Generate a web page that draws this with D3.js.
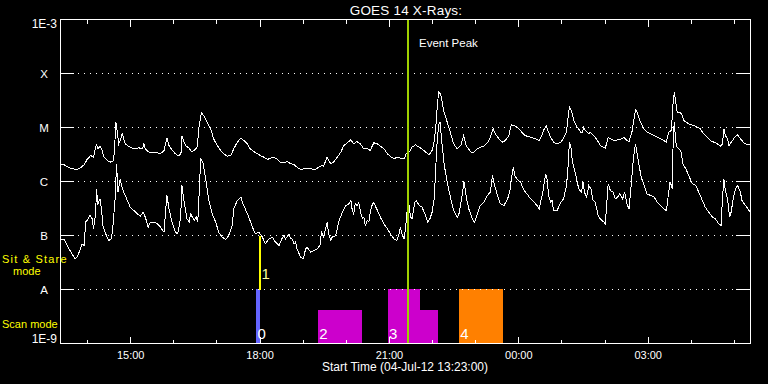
<!DOCTYPE html>
<html><head><meta charset="utf-8">
<script src="https://cdn.jsdelivr.net/npm/d3@7"></script>
<style>
html,body{margin:0;padding:0;background:#000;}
svg{display:block;background:#000;}
text{font-family:"Liberation Sans",Arial,sans-serif;fill:#fff;}
</style></head><body>
<svg id="chart" width="768" height="384"></svg>
<script>
// ---------- data ----------
const title = "GOES 14 X-Rays:";
const startTime = "2012-07-04 13:23";
const endTime = "2012-07-05 05:23";
const xAxisTitle = "Start Time (04-Jul-12 13:23:00)";
const yTickValues = [1e-9, 1e-8, 1e-7, 1e-6, 1e-5, 1e-4, 1e-3];
const yTickLabels = ["1E-9", "A", "B", "C", "M", "X", "1E-3"];

// GOES long channel (1-8 A), minutes after start, flux W/m^2
const longMinutes = [0,5,9,14,21,26,30,33,37,42,46,50,52,55,58,60,65,70,73,75,77,79,81,84,86,88,90,95,100,104,109,114,116,118,123,128,132,139,144,148,151,155,160,165,168,169,172,174,179,182,186,190,193,196,199,204,209,213,218,223,227,232,237,241,246,251,255,260,264,269,274,278,283,288,292,297,302,306,311,315,320,
325,329,334,339,343,348,355,359,364,366,371,376,380,385,390,394,399,404,408,412,417,422,427,431,434,436,441,445,450,455,459,464,468,473,478,481,483,487,489,494,499,503,508,513,517,519,522,524,526,529,531,533,538,543,547,552,557,559,561,564,566,571,575,580,584,589,594,598,602,605,610,615,619,624,626,628,631,635,640,
645,649,654,661,666,670,673,676,678,682,686,691,696,700,704,706,708,711,714,719,724,726,728,730,735,737,742,747,751,758,762,765,770,775,779,784,788,791,795,798,800,802,807,812,816,821,826,830,835,839,843,846,850,852,854,856,858,862,865,867,872,877,881,886,890,895,900,904,909,914,918,921,923,925,928,930,935,939,942,946,951,955,960];
const longFlux = [2.12e-6,2.04e-6,1.90e-6,1.77e-6,1.67e-6,1.72e-6,1.90e-6,2.04e-6,2.56e-6,3.03e-6,2.82e-6,4.98e-6,4.03e-6,4.45e-6,3.75e-6,2.90e-6,2.45e-6,2.28e-6,2.35e-6,3.49e-6,1.26e-5,8.20e-6,4.98e-6,6.17e-6,7.85e-6,6.17e-6,4.98e-6,4.45e-6,4.14e-6,4.03e-6,4.20e-6,4.03e-6,4.98e-6,4.03e-6,3.49e-6,3.49e-6,3.49e-6,3.25e-6,3.75e-6,6.44e-6,4.64e-6,3.86e-6,3.25e-6,2.94e-6,3.49e-6,6.91e-6,5.35e-6,4.64e-6,4.14e-6,3.59e-6,3.75e-6,4.32e-6,1.09e-5,1.87e-5,1.67e-5,1.26e-5,9.44e-6,6.17e-6,4.64e-6,3.75e-6,3.25e-6,2.94e-6,3.03e-6,4.03e-6,5.35e-6,6.35e-6,5.75e-6,4.98e-6,4.03e-6,3.59e-6,3.25e-6,3.03e-6,2.82e-6,2.56e-6,2.70e-6,2.82e-6,2.56e-6,2.28e-6,2.22e-6,2.35e-6,2.15e-6,
2.04e-6,1.84e-6,1.67e-6,1.72e-6,1.72e-6,1.72e-6,1.67e-6,1.84e-6,1.98e-6,1.92e-6,2.82e-6,2.12e-6,2.28e-6,2.82e-6,3.49e-6,4.64e-6,5.20e-6,5.91e-6,4.98e-6,5.51e-6,4.98e-6,4.03e-6,4.03e-6,3.75e-6,4.64e-6,5.20e-6,4.98e-6,4.51e-6,4.03e-6,3.25e-6,2.90e-6,2.63e-6,2.82e-6,2.70e-6,2.63e-6,3.25e-6,3.49e-6,3.75e-6,4.32e-6,4.77e-6,4.32e-6,4.03e-6,3.49e-6,3.12e-6,3.75e-6,4.64e-6,9.44e-6,2.22e-5,4.51e-5,4.20e-5,2.94e-5,2.06e-5,1.26e-5,7.63e-6,4.98e-6,4.03e-6,4.64e-6,5.75e-6,7.11e-6,4.77e-6,4.32e-6,3.49e-6,3.49e-6,4.03e-6,4.32e-6,4.51e-6,5.20e-6,6.62e-6,9.44e-6,7.63e-6,6.17e-6,5.35e-6,5.75e-6,7.11e-6,1.01e-5,1.12e-5,1.09e-5,1.01e-5,8.80e-6,
7.31e-6,6.91e-6,6.62e-6,6.17e-6,5.75e-6,7.31e-6,9.44e-6,1.06e-5,8.80e-6,6.62e-6,5.35e-6,4.98e-6,5.35e-6,6.35e-6,8.20e-6,1.45e-5,2.38e-5,2.06e-5,1.35e-5,1.01e-5,8.20e-6,8.20e-6,1.01e-5,8.80e-6,7.63e-6,8.20e-6,7.11e-6,5.75e-6,4.64e-6,4.14e-6,6.62e-6,6.17e-6,5.75e-6,5.91e-6,6.00e-6,6.62e-6,5.75e-6,5.51e-6,8.20e-6,1.45e-5,2.15e-5,1.92e-5,1.26e-5,9.44e-6,8.20e-6,7.63e-6,7.11e-6,6.62e-6,6.17e-6,5.75e-6,5.35e-6,8.20e-6,8.80e-6,2.56e-5,4.51e-5,2.94e-5,1.92e-5,1.92e-5,1.67e-5,1.35e-5,1.22e-5,1.12e-5,1.09e-5,1.01e-5,9.44e-6,7.63e-6,6.62e-6,5.75e-6,5.35e-6,4.98e-6,4.51e-6,4.98e-6,9.44e-6,7.11e-6,6.17e-6,4.64e-6,5.75e-6,6.91e-6,7.31e-6,6.17e-6,5.20e-6,4.77e-6,4.77e-6];

// GOES short channel (0.5-4 A), minutes after start, flux W/m^2
const shortMinutes = [0,5,7,12,16,20,23,26,30,33,35,37,41,44,46,49,50,52,55,57,59,63,67,71,73,76,78,80,83,85,88,93,97,102,107,111,115,118,122,125,130,135,139,144,148,151,155,160,163,167,169,172,176,179,181,186,189,191,193,195,198,202,206,211,216,220,225,230,234,239,241,246,251,253,257,262,267,271,276,281,285,290,295,299,304,308,311,313,318,320,
322,325,327,329,334,338,341,343,348,353,357,361,363,366,371,373,376,378,383,387,392,397,401,404,406,408,410,413,415,417,420,422,424,427,429,431,434,436,441,445,450,455,459,464,468,471,473,475,478,480,482,484,487,489,493,495,499,503,508,511,514,517,520,522,524,526,528,531,534,538,543,547,552,554,558,560,561,563,565,568,573,576,580,584,589,594,598,601,604,608,612,617,622,625,628,630,632,635,640,
642,645,649,654,659,663,666,669,672,673,675,677,679,682,684,686,691,696,700,704,706,708,710,712,717,721,725,727,729,732,735,738,741,744,748,751,756,758,762,765,769,772,775,778,782,785,788,791,794,797,800,802,805,808,812,816,821,826,830,835,839,843,845,848,850,851,852,853,854,856,858,863,866,870,874,879,884,888,893,897,902,907,911,916,919,921,923,925,928,931,933,936,939,942,946,948,953,958,960];
const shortFlux = [8.68e-8,8.43e-8,7.53e-8,5.66e-8,4.58e-8,3.70e-8,3.97e-8,4.91e-8,7.01e-8,6.53e-8,1.77e-7,1.90e-7,2.35e-7,2.04e-7,1.33e-7,2.70e-7,7.31e-7,3.86e-7,4.77e-7,3.12e-7,1.53e-7,1.07e-7,8.08e-8,8.68e-8,1.53e-7,4.77e-7,2.12e-6,6.35e-7,1.12e-6,8.43e-7,6.35e-7,4.45e-7,3.35e-7,2.90e-7,2.52e-7,2.28e-7,2.70e-7,2.19e-7,1.43e-7,1.77e-7,1.77e-7,1.64e-7,1.43e-7,1.15e-7,5.51e-7,3.12e-7,1.77e-7,1.15e-7,1.07e-7,2.04e-7,8.43e-7,4.14e-7,2.04e-7,1.77e-7,2.52e-7,1.90e-7,2.19e-7,1.77e-7,6.35e-7,2.63e-6,2.28e-6,1.12e-6,4.77e-7,2.52e-7,1.77e-7,1.15e-7,9.31e-8,8.43e-8,1.00e-7,1.53e-7,3.12e-7,4.45e-7,5.13e-7,4.14e-7,3.12e-7,2.19e-7,1.43e-7,1.07e-7,1.15e-7,9.31e-8,7.01e-8,8.68e-8,9.31e-8,7.53e-8,6.53e-8,8.68e-8,1.00e-7,8.68e-8,1.07e-7,8.70e-8,
8.68e-8,7.01e-8,7.53e-8,5.66e-8,3.97e-8,3.70e-8,5.66e-8,6.08e-8,4.91e-8,5.28e-8,5.66e-8,6.53e-8,1.15e-7,9.31e-8,1.77e-7,1.07e-7,8.08e-8,9.31e-8,1.00e-7,1.77e-7,2.70e-7,3.59e-7,3.86e-7,4.45e-7,2.90e-7,2.52e-7,3.86e-7,3.59e-7,4.14e-7,2.90e-7,2.04e-7,2.19e-7,1.53e-7,1.90e-7,1.77e-7,2.70e-7,3.86e-7,4.03e-7,2.90e-7,2.19e-7,1.64e-7,1.33e-7,1.07e-7,8.68e-8,8.08e-8,1.07e-7,1.43e-7,1.07e-7,8.68e-8,1.33e-7,2.70e-7,4.45e-7,2.19e-7,2.04e-7,4.14e-7,4.45e-7,3.59e-7,3.35e-7,2.35e-7,1.77e-7,2.04e-7,2.70e-7,4.77e-7,1.72e-6,5.35e-6,1.09e-5,1.26e-5,4.64e-6,1.98e-6,9.72e-7,4.77e-7,2.90e-7,2.19e-7,2.35e-7,4.77e-7,7.31e-7,1.04e-6,7.31e-7,4.77e-7,3.12e-7,2.04e-7,1.77e-7,2.52e-7,3.59e-7,4.14e-7,5.51e-7,6.35e-7,1.29e-6,8.43e-7,5.51e-7,3.86e-7,3.59e-7,4.77e-7,6.35e-7,1.29e-6,1.84e-6,1.29e-6,1.12e-6,9.72e-7,
8.43e-7,6.81e-7,5.91e-7,4.77e-7,4.14e-7,3.59e-7,3.12e-7,4.77e-7,7.31e-7,9.72e-7,1.39e-6,1.12e-6,5.51e-7,4.14e-7,4.45e-7,2.90e-7,2.90e-7,4.14e-7,4.77e-7,8.43e-7,1.72e-6,5.35e-6,4.64e-6,2.45e-6,1.29e-6,7.31e-7,6.35e-7,9.72e-7,6.35e-7,5.13e-7,8.43e-7,7.31e-7,4.45e-7,4.14e-7,2.35e-7,2.04e-7,1.77e-7,1.64e-7,9.06e-7,6.81e-7,6.35e-7,4.77e-7,5.13e-7,5.91e-7,4.77e-7,6.35e-7,3.86e-7,3.12e-7,8.43e-7,2.63e-6,4.98e-6,3.49e-6,1.98e-6,1.20e-6,8.43e-7,5.91e-7,5.51e-7,5.13e-7,4.14e-7,3.59e-7,3.12e-7,2.90e-7,4.77e-7,9.72e-7,8.43e-7,7.31e-7,3.49e-6,8.20e-6,1.26e-5,5.35e-6,4.32e-6,3.75e-6,2.12e-6,1.72e-6,1.29e-6,9.06e-7,8.43e-7,6.35e-7,4.45e-7,3.35e-7,2.70e-7,2.19e-7,2.04e-7,1.64e-7,1.53e-7,4.77e-7,1.12e-6,6.81e-7,4.77e-7,2.19e-7,2.70e-7,4.77e-7,7.31e-7,8.43e-7,6.35e-7,4.45e-7,3.59e-7,2.90e-7,2.70e-7];

// observing-mode blocks (scan mode)
const scanLabels = ["0", "2", "3", "", "4"];
const scanStart  = ["2012-07-04 17:55", "2012-07-04 19:21", "2012-07-04 20:58", "2012-07-04 21:43", "2012-07-04 22:37"];
const scanEnd    = ["2012-07-04 18:00", "2012-07-04 20:23", "2012-07-04 21:43", "2012-07-04 22:08", "2012-07-04 23:39"];
const scanLevel  = [1e-8, 4e-9, 1e-8, 4e-9, 1e-8];
const scanColors = ["#6464ff", "#cc00cc", "#cc00cc", "#cc00cc", "#ff8000"];
// sit & stare marker
const sitStareLabel = "1";
const sitStareTime = "2012-07-04 18:01";
const sitStareRange = [1e-8, 1e-7];
// event peak
const eventPeakTime = "2012-07-04 21:27";
const eventPeakLabel = "Event Peak";

// ---------- drawing ----------
const parse = d3.timeParse("%Y-%m-%d %H:%M");
const t0 = parse(startTime), t1 = parse(endTime);
const L = 60, R = 750, T = 19, B = 343;
const x = d3.scaleTime().domain([t0, t1]).range([L + 0.5, R + 0.5]);
const y = d3.scaleLog().domain([1e-9, 1e-3]).range([B + 0.5, T + 0.5]);

const svg = d3.select("#chart");
svg.append("rect").attr("width", 768).attr("height", 384).attr("fill", "#000");

// title
svg.append("text").attr("x", (L + R) / 2 + 1).attr("y", 14.5).attr("text-anchor", "middle")
  .style("font-size", "13.5px").style("letter-spacing", "0.2px").text(title);

// mode bars
const bars = scanStart.map((s, i) => ({s: parse(s), e: parse(scanEnd[i]), lv: scanLevel[i], c: scanColors[i], lab: scanLabels[i]}));
svg.append("g").selectAll("rect").data(bars).join("rect")
  .attr("x", d => x(d.s)).attr("width", d => x(d.e) - x(d.s))
  .attr("y", d => y(d.lv) - 0.5).attr("height", d => y(1e-9) - y(d.lv))
  .attr("fill", d => d.c).attr("shape-rendering", "crispEdges");
svg.append("g").selectAll("text").data(bars.filter(d => d.lab)).join("text")
  .attr("x", d => x(d.s) + 1.5).attr("y", y(1e-9) - 4.5)
  .style("font-size", "15px").text(d => d.lab);

// gridlines and y ticks
const gy = svg.append("g").attr("shape-rendering", "crispEdges");
yTickValues.forEach((v, i) => {
  const yy = y(v);
  gy.append("line").attr("x1", L).attr("x2", L + 14).attr("y1", yy).attr("y2", yy).attr("stroke", "#fff");
  gy.append("line").attr("x1", R - 14).attr("x2", R + 1).attr("y1", yy).attr("y2", yy).attr("stroke", "#fff");
  if (i > 0 && i < yTickValues.length - 1) {
    gy.append("line").attr("x1", L + 18).attr("x2", R - 16).attr("y1", yy).attr("y2", yy)
      .attr("stroke", "#fff").attr("stroke-dasharray", "1,5");
  }
  const lab = yTickLabels[i];
  const isNum = lab.length > 1;
  svg.append("text").style("font-size", isNum ? "12px" : "11.5px")
    .attr("text-anchor", isNum ? "end" : "middle")
    .attr("x", isNum ? 57 : 44)
    .attr("y", i === 0 ? yy - 0.5 : (i === yTickValues.length - 1 ? yy + 8 : yy + 4.5))
    .text(lab);
});

// x axes (major and minor ticks, bottom and top)
const fmt = d3.timeFormat("%H:%M");
const axB = svg.append("g").attr("transform", `translate(0,${B + 0.5})`)
  .call(d3.axisBottom(x).ticks(d3.timeHour.every(3)).tickSize(-7).tickSizeOuter(0).tickPadding(8).tickFormat(fmt));
const axBm = svg.append("g").attr("transform", `translate(0,${B + 0.5})`)
  .call(d3.axisBottom(x).ticks(d3.timeHour.every(1)).tickSize(-4).tickSizeOuter(0).tickFormat(""));
const axT = svg.append("g").attr("transform", `translate(0,${T + 0.5})`)
  .call(d3.axisTop(x).ticks(d3.timeHour.every(3)).tickSize(-7).tickSizeOuter(0).tickFormat(""));
const axTm = svg.append("g").attr("transform", `translate(0,${T + 0.5})`)
  .call(d3.axisTop(x).ticks(d3.timeHour.every(1)).tickSize(-4).tickSizeOuter(0).tickFormat(""));
[axB, axBm, axT, axTm].forEach(g => {
  g.select(".domain").remove();
  g.selectAll("line").attr("stroke", "#fff").attr("shape-rendering", "crispEdges");
  g.selectAll("text").attr("fill", "#fff").style("font-family", '"Liberation Sans",Arial,sans-serif').style("font-size", "11px");
});

svg.append("text").attr("x", (L + R) / 2).attr("y", 371).attr("text-anchor", "middle")
  .style("font-size", "12px").text(xAxisTitle);

// curves
const line = d3.line().x(d => x(d[0])).y(d => y(d[1]));
const toPts = (mins, flux) => mins.map((m, i) => [d3.timeMinute.offset(t0, m), flux[i]]);
svg.append("path").datum(toPts(longMinutes, longFlux)).attr("d", line)
  .attr("fill", "none").attr("stroke", "#fff").attr("stroke-width", 1).attr("shape-rendering", "crispEdges");
svg.append("path").datum(toPts(shortMinutes, shortFlux)).attr("d", line)
  .attr("fill", "none").attr("stroke", "#fff").attr("stroke-width", 1).attr("shape-rendering", "crispEdges");

// sit & stare marker
const xs = Math.round(x(parse(sitStareTime)));
svg.append("line").attr("x1", xs).attr("x2", xs).attr("y1", y(sitStareRange[1])).attr("y2", y(sitStareRange[0]))
  .attr("stroke", "#ffff00").attr("stroke-width", 2).attr("shape-rendering", "crispEdges");
svg.append("text").attr("x", xs + 1.5).attr("y", y(sitStareRange[0]) - 11)
  .style("font-size", "15px").style("fill", "#ffffa0").text(sitStareLabel);

// event peak
const xp = Math.round(x(parse(eventPeakTime)));
svg.append("line").attr("x1", xp).attr("x2", xp).attr("y1", T + 0.5).attr("y2", B + 0.5)
  .attr("stroke", "#9fd000").attr("stroke-width", 2).attr("shape-rendering", "crispEdges");
svg.append("text").attr("x", xp + 11).attr("y", 47).style("font-size", "11.5px").text(eventPeakLabel);

// frame
svg.append("rect").attr("x", L + 0.5).attr("y", T + 0.5).attr("width", R - L).attr("height", B - T)
  .attr("fill", "none").attr("stroke", "#fff").attr("shape-rendering", "crispEdges");

// mode labels (left)
const yl = svg.append("g");
yl.append("text").attr("x", 2).attr("y", 263).style("font-size", "11px").style("letter-spacing", "1.2px").style("fill", "#ffff00").text("Sit & Stare");
yl.append("text").attr("x", 13).attr("y", 275).style("font-size", "11px").style("fill", "#ffff00").text("mode");
yl.append("text").attr("x", 2).attr("y", 328).style("font-size", "11px").style("fill", "#ffff00").text("Scan mode");
</script>
</body></html>
